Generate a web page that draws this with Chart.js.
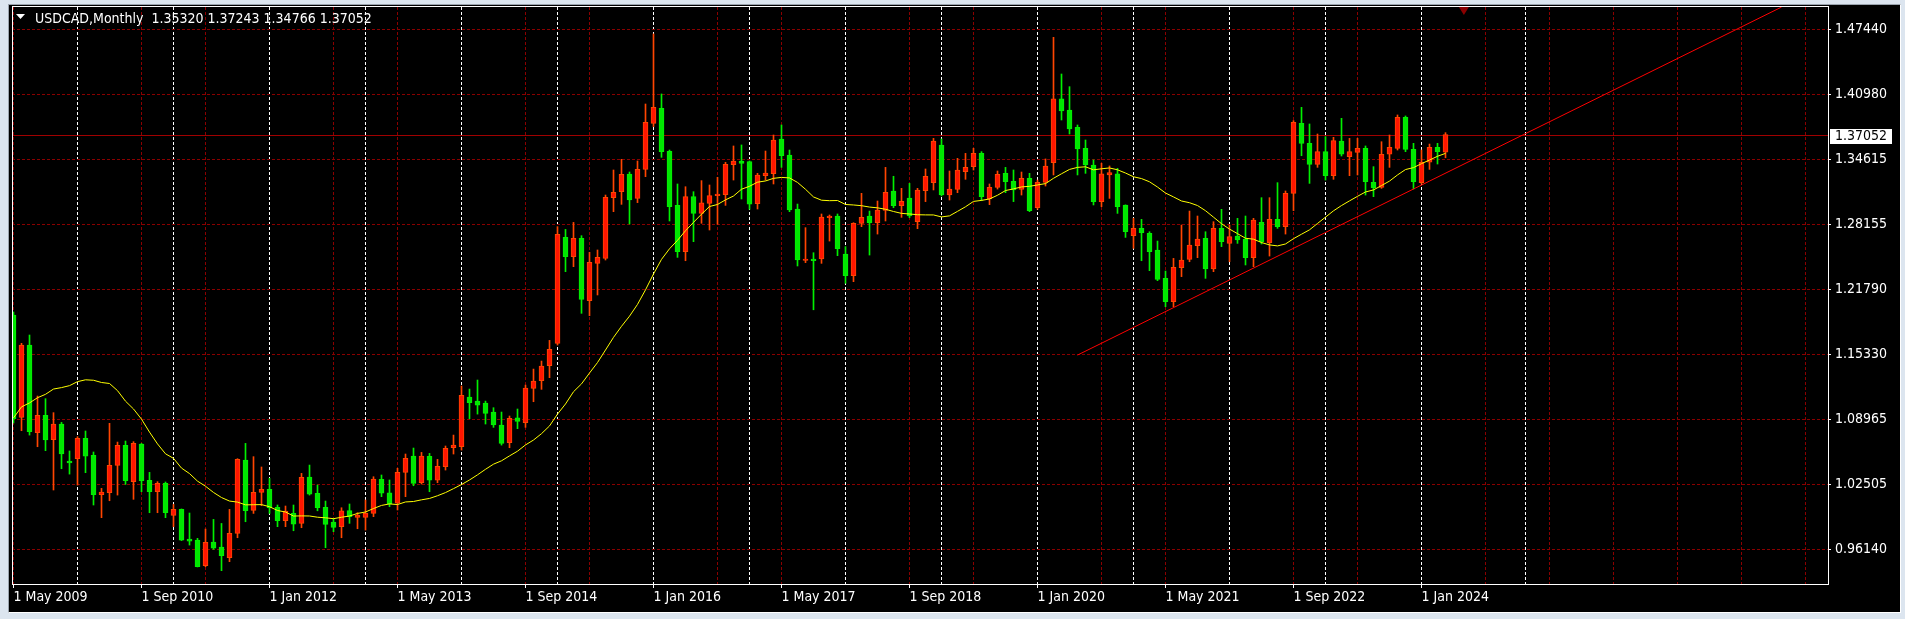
<!DOCTYPE html>
<html>
<head>
<meta charset="utf-8">
<title>USDCAD, Monthly</title>
<script src="https://cdn.jsdelivr.net/npm/chart.js@4.4.0/dist/chart.umd.min.js"></script>
<style>
  html, body { margin: 0; padding: 0; }
  body { width: 1905px; height: 619px; background: #dce5ef; position: relative; overflow: hidden; }
  #win { position: absolute; left: 8px; top: 4px; width: 1893px; height: 609px; box-sizing: border-box;
         background: #000; border-left: 1px solid #9aa3ad; border-top: 1px solid #9aa3ad;
         border-right: 1px solid #fff; border-bottom: 1px solid #fff; }
  #wrap { position: absolute; left: 0; top: 0; width: 1905px; height: 619px; }
</style>
</head>
<body>
<div id="win"></div>
<div id="wrap"><canvas id="chart" width="1905" height="619"></canvas></div>
<script>
const symbol = "USDCAD"
const timeframe = "Monthly"

// monthly bars, index 0 = May 2009 ... index 179 = Apr 2024
const open = [
  1.1925,1.0916,1.1629,1.0764,1.0935,1.0695,1.0850,1.0485,1.0508,1.0709,
  1.0541,1.0153,1.0172,1.0442,1.0640,1.0281,1.0652,1.0294,1.0182,1.0265,
  0.9949,1.0008,0.9715,0.9705,0.9452,0.9686,0.9636,0.9531,0.9771,1.0495,
  0.9998,1.0175,1.0205,1.0027,0.9896,0.9968,0.9870,1.0327,1.0166,1.0027,
  0.9883,0.9837,0.9996,0.9929,0.9929,0.9969,1.0305,1.0170,1.0068,1.0373,
  1.0534,1.0271,1.0531,1.0297,1.0429,1.0616,1.0626,1.1116,1.1076,1.1057,
  1.0968,1.0840,1.0665,1.0912,1.0863,1.1202,1.1277,1.1425,1.1646,1.2691,
  1.2501,1.2682,1.2067,1.2435,1.2484,1.3083,1.3142,1.3316,1.3076,1.3362,
  1.3816,1.3964,1.3540,1.3007,1.2550,1.3093,1.2928,1.3027,1.3103,1.3113,
  1.3409,1.3445,1.3440,1.3024,1.3300,1.3320,1.3662,1.3504,1.2971,1.2465,
  1.2478,1.2478,1.2886,1.2902,1.2527,1.2313,1.2830,1.2902,1.2836,1.2958,
  1.3149,1.3004,1.3080,1.2846,1.3152,1.3231,1.3603,1.3109,1.3165,1.3339,
  1.3389,1.3520,1.3070,1.3185,1.3323,1.3244,1.3165,1.3274,1.2984,1.3234,
  1.3428,1.4057,1.3948,1.3777,1.3570,1.3405,1.3043,1.3307,1.3317,1.3010,
  1.2708,1.2780,1.2731,1.2567,1.2287,1.2057,1.2392,1.2475,1.2609,1.2681,
  1.2379,1.2780,1.2632,1.2704,1.2672,1.2491,1.2840,1.2639,1.2869,1.2797,
  1.3126,1.3816,1.3619,1.3412,1.3537,1.3300,1.3642,1.3487,1.3530,1.3570,
  1.3234,1.3185,1.3511,1.3570,1.3876,1.3560,1.3231,1.3432,1.3580,1.35320
]
const high = [
  1.1955,1.1646,1.1728,1.1126,1.1100,1.0962,1.0866,1.0584,1.0725,1.0781,
  1.0574,1.0215,1.0857,1.0672,1.0682,1.0676,1.0659,1.0373,1.0281,1.0278,
  1.0057,1.0012,0.9972,0.9722,0.9814,0.9909,0.9869,1.0008,1.0508,1.0659,
  1.0528,1.0426,1.0314,1.0051,1.0041,1.0051,1.0363,1.0445,1.0248,1.0090,
  0.9919,1.0024,1.0061,0.9975,1.0100,1.0330,1.0347,1.0298,1.0413,1.0554,
  1.0613,1.0570,1.0560,1.0501,1.0633,1.0741,1.1225,1.1195,1.1284,1.1076,
  1.1011,1.0968,1.0929,1.0998,1.1234,1.1392,1.1471,1.1675,1.2797,1.2770,
  1.2839,1.2708,1.2544,1.2567,1.3109,1.3356,1.3461,1.3336,1.3445,1.4007,
  1.4698,1.4106,1.3553,1.3218,1.3191,1.3142,1.3251,1.3208,1.3284,1.3432,
  1.3593,1.3603,1.3445,1.3323,1.3543,1.3701,1.3800,1.3553,1.3020,1.2787,
  1.2540,1.2922,1.2912,1.2922,1.2600,1.2836,1.3126,1.2951,1.3050,1.3382,
  1.3294,1.3175,1.3224,1.3175,1.3366,1.3668,1.3662,1.3346,1.3471,1.3520,
  1.3570,1.3537,1.3218,1.3346,1.3382,1.3356,1.3336,1.3323,1.3257,1.3465,
  1.4665,1.4303,1.4178,1.3800,1.3652,1.3455,1.3422,1.3396,1.3372,1.3012,
  1.2879,1.2869,1.2747,1.2655,1.2359,1.2484,1.2813,1.2951,1.2902,1.2747,
  1.2846,1.2968,1.2813,1.2879,1.2902,1.2879,1.3083,1.3083,1.3231,1.3149,
  1.3843,1.3974,1.3810,1.3711,1.3685,1.3678,1.3866,1.3668,1.3668,1.3593,
  1.3389,1.3635,1.3701,1.3899,1.3889,1.3619,1.3553,1.3612,1.3619,1.37243
]
const low = [
  1.0860,1.0784,1.0741,1.0626,1.0587,1.0199,1.0409,1.0356,1.0248,1.0370,
  1.0051,0.9926,1.0093,1.0149,1.0254,1.0107,1.0182,0.9975,0.9975,0.9926,
  0.9837,0.9700,0.9656,0.9440,0.9442,0.9613,0.9403,0.9492,0.9728,0.9886,
  0.9968,1.0044,0.9968,0.9837,0.9837,0.9797,0.9827,1.0149,0.9994,0.9630,
  0.9788,0.9728,0.9870,0.9817,0.9804,0.9936,1.0133,1.0034,1.0002,1.0133,
  1.0241,1.0258,1.0182,1.0271,1.0396,1.0554,1.0593,1.0902,1.0948,1.0850,
  1.0817,1.0642,1.0616,1.0804,1.0817,1.1070,1.1192,1.1307,1.1629,1.2353,
  1.2402,1.1942,1.1919,1.2123,1.2468,1.2945,1.3017,1.2823,1.3034,1.3290,
  1.3784,1.3481,1.2853,1.2494,1.2461,1.2649,1.2830,1.2764,1.2820,1.3007,
  1.3257,1.3070,1.2968,1.2971,1.3257,1.3218,1.3382,1.2945,1.2409,1.2442,
  1.1977,1.2435,1.2655,1.2511,1.2238,1.2254,1.2797,1.2517,1.2724,1.2853,
  1.2984,1.2889,1.2886,1.2777,1.3044,1.3159,1.3100,1.3060,1.3132,1.3264,
  1.3356,1.3053,1.3014,1.3168,1.3132,1.3044,1.3109,1.2945,1.2968,1.3198,
  1.3307,1.3849,1.3711,1.3307,1.3323,1.3011,1.2994,1.3076,1.2928,1.2691,
  1.2583,1.2461,1.2363,1.2264,1.2007,1.2007,1.2304,1.2451,1.2491,1.2287,
  1.2353,1.2600,1.2451,1.2632,1.2419,1.2402,1.2626,1.2507,1.2780,1.2724,
  1.2955,1.3497,1.3224,1.3382,1.3257,1.3264,1.3494,1.3300,1.3307,1.3109,
  1.3093,1.3175,1.3382,1.3553,1.3537,1.3168,1.3218,1.3362,1.3415,1.34766
]
const close = [
  1.0900,1.1629,1.0774,1.0935,1.0692,1.0850,1.0554,1.0465,1.0709,1.0534,
  1.0153,1.0179,1.0442,1.0640,1.0291,1.0659,1.0291,1.0182,1.0265,0.9975,
  1.0008,0.9705,0.9695,0.9442,0.9682,0.9626,0.9551,0.9771,1.0501,0.9994,
  1.0175,1.0205,1.0024,0.9896,0.9991,0.9863,1.0324,1.0159,1.0024,0.9860,
  0.9830,0.9994,0.9935,0.9952,0.9968,1.0308,1.0167,1.0065,1.0374,1.0511,
  1.0264,1.0534,1.0297,1.0432,1.0610,1.0642,1.1132,1.1060,1.1037,1.0955,
  1.0840,1.0659,1.0906,1.0876,1.1205,1.1274,1.1422,1.1586,1.2721,1.2501,
  1.2682,1.2080,1.2445,1.2494,1.3086,1.3135,1.3313,1.3060,1.3362,1.3826,
  1.3974,1.3537,1.2994,1.2550,1.3093,1.2928,1.3033,1.3103,1.3119,1.3412,
  1.3445,1.3420,1.3020,1.3307,1.3326,1.3652,1.3497,1.2961,1.2468,1.2478,
  1.2461,1.2892,1.2902,1.2580,1.2313,1.2830,1.2889,1.2836,1.2961,1.3136,
  1.3004,1.3047,1.2902,1.3159,1.3293,1.3642,1.3109,1.3168,1.3356,1.3382,
  1.3520,1.3093,1.3185,1.3313,1.3241,1.3159,1.3274,1.2955,1.3234,1.3395,
  1.4057,1.3938,1.3760,1.3563,1.3405,1.3043,1.3317,1.3330,1.2994,1.2747,
  1.2780,1.2738,1.2550,1.2277,1.2057,1.2396,1.2468,1.2616,1.2675,1.2379,
  1.2780,1.2649,1.2698,1.2665,1.2491,1.2863,1.2649,1.2869,1.2797,1.3126,
  1.3826,1.3619,1.3412,1.3537,1.3300,1.3645,1.3511,1.3537,1.3570,1.3241,
  1.3182,1.3511,1.3580,1.3876,1.3560,1.3241,1.3432,1.3580,1.3537,1.37052
]
// closes Oct 2007 .. Apr 2009, only needed to start the moving average
const priorClose = [0.9450,0.9990,0.9910,1.0020,0.9810,1.0270,1.0080,0.9920,1.0170,1.0240,
                    1.0620,1.0640,1.2050,1.2370,1.2200,1.2300,1.2730,1.2600,1.1930]
const maPeriod = 20

const yTicks = [1.47440, 1.40980, 1.34615, 1.28155, 1.21790, 1.15330, 1.08965, 1.02505, 0.96140]
const xLabelIdx = [0, 16, 32, 48, 64, 80, 96, 112, 128, 144, 160, 176]
const xLabels = ["1 May 2009", "1 Sep 2010", "1 Jan 2012", "1 May 2013", "1 Sep 2014", "1 Jan 2016",
                 "1 May 2017", "1 Sep 2018", "1 Jan 2020", "1 May 2021", "1 Sep 2022", "1 Jan 2024"]
const gridIdx = [0, 8, 16, 24, 32, 40, 48, 56, 64, 72, 80, 88, 96, 104, 112, 120, 128, 136, 144,
                 152, 160, 168, 176, 184, 192, 200, 208, 216, 224]
const yearSepIdx = [8, 20, 32, 44, 56, 68, 80, 92, 104, 116, 128, 140, 152, 164, 176, 189]

// support trend line drawn on the chart (bar index, price)
const trendIdx = [133, 221]
const trendPrice = [1.1530, 1.4963]
const shiftIdx = 181.3

const xMin = -0.1875, xMax = 226.8125
const yMin = 0.92717, yMax = 1.4964

const font = { family: "'DejaVu Sans Condensed', 'DejaVu Sans', sans-serif", size: 14 }
const upFill = "#ff1500", upLine = "#ff4500"
const dnFill = "#00e600", dnLine = "#00f000"
const gridColor = "#8b0000"
const bidColor = "#a00000"

const isUp = close.map((c, i) => c >= open[i])
const bodies = open.map((o, i) => ({ x: i, y: [Math.min(o, close[i]), Math.max(o, close[i])] }))
const wicks = high.map((h, i) => ({ x: i, y: [low[i], h] }))

const allClose = priorClose.concat(close)
const maData = close.map((_, i) => {
    let s = 0
    for (let k = 0; k < maPeriod; k++) s += allClose[i + k]
    return { x: i, y: s / maPeriod }
})

const last = close.length - 1
const fmt = v => v.toFixed(5)

// keep the plot area exactly where the layout padding puts it
const noScalePadding = s => {
    s.paddingTop = 0
    s.paddingBottom = 0
    s.paddingLeft = 0
    s.paddingRight = 0
}

/**
 * Terminal-style extras: bid line, frame, chart shift marker, title and price tag
 */
const mt4Decor = {
    id: "mt4Decor",
    beforeDatasetsDraw(chart) {
        const { ctx, chartArea: a, scales } = chart
        const py = Math.round(scales.y.getPixelForValue(close[last])) + 0.5
        ctx.save()
        ctx.strokeStyle = bidColor
        ctx.lineWidth = 1
        ctx.beginPath()
        ctx.moveTo(a.left, py)
        ctx.lineTo(a.right, py)
        ctx.stroke()
        ctx.restore()
    },
    afterDatasetsDraw(chart) {
        const { ctx, chartArea: a, scales } = chart
        ctx.save()
        const sx = scales.x.getPixelForValue(shiftIdx)
        ctx.fillStyle = gridColor
        ctx.beginPath()
        ctx.moveTo(sx - 5, a.top)
        ctx.lineTo(sx + 5, a.top)
        ctx.lineTo(sx, a.top + 8)
        ctx.closePath()
        ctx.fill()

        ctx.strokeStyle = "#ffffff"
        ctx.lineWidth = 1
        ctx.strokeRect(Math.round(a.left) + 0.5, Math.round(a.top) - 0.5,
                       Math.round(a.right - a.left), Math.round(a.bottom - a.top) + 1)
        ctx.restore()
    },
    afterDraw(chart) {
        const { ctx, chartArea: a, scales } = chart
        ctx.save()
        ctx.font = font.size + "px " + font.family
        ctx.fillStyle = "#ffffff"
        ctx.beginPath()
        ctx.moveTo(a.left + 4, a.top + 7)
        ctx.lineTo(a.left + 13, a.top + 7)
        ctx.lineTo(a.left + 8.5, a.top + 12)
        ctx.closePath()
        ctx.fill()
        ctx.textBaseline = "alphabetic"
        const title = symbol + "," + timeframe + "  " +
            [open[last], high[last], low[last], close[last]].map(fmt).join(" ")
        ctx.fillText(title, a.left + 23, a.top + 16)

        const py = Math.round(scales.y.getPixelForValue(close[last]))
        ctx.fillStyle = "#ffffff"
        ctx.fillRect(a.right + 2, py - 6, 62, 15)
        ctx.fillStyle = "#000000"
        ctx.textBaseline = "middle"
        ctx.fillText(fmt(close[last]), a.right + 7, py + 1.5)
        ctx.restore()
    }
}

new Chart(document.getElementById("chart"), {
    type: "bar",
    data: {
        datasets: [
            {
                type: "line", label: "MA(20)", data: maData, order: 0,
                borderColor: "#ffff00", borderWidth: 1, pointRadius: 0, tension: 0
            },
            {
                type: "line", label: "trend", order: 0,
                data: trendIdx.map((x, i) => ({ x: x, y: trendPrice[i] })),
                borderColor: "#ff0000", borderWidth: 1, pointRadius: 0
            },
            {
                label: "body", data: bodies, order: 1, grouped: false,
                barThickness: 5, minBarLength: 1, borderWidth: 1, borderSkipped: false,
                backgroundColor: isUp.map(u => u ? upFill : dnFill),
                borderColor: isUp.map(u => u ? upLine : dnLine)
            },
            {
                label: "wick", data: wicks, order: 2, grouped: false,
                barThickness: 1, borderWidth: 0,
                backgroundColor: isUp.map(u => u ? upLine : dnLine)
            }
        ]
    },
    options: {
        responsive: false,
        animation: false,
        devicePixelRatio: 1,
        events: [],
        layout: { padding: { left: 12, top: 7, right: 0, bottom: 0 } },
        plugins: { legend: { display: false }, tooltip: { enabled: false } },
        scales: {
            x: {
                type: "linear", position: "bottom", min: xMin, max: xMax, offset: false,
                afterBuildTicks: s => { s.ticks = gridIdx.map(v => ({ value: v })) },
                afterFit: s => { s.height = 35; noScalePadding(s) },
                ticks: {
                    autoSkip: false, maxRotation: 0, minRotation: 0, align: "start",
                    color: "#ffffff", font: font, padding: 1,
                    callback: v => {
                        const k = xLabelIdx.indexOf(v)
                        return k < 0 ? "" : xLabels[k]
                    }
                },
                grid: {
                    offset: false, color: gridColor, lineWidth: 1, drawTicks: true, tickLength: 4,
                    tickColor: c => (c.tick && xLabelIdx.includes(c.tick.value)) ? "#ffffff" : "rgba(0,0,0,0)"
                },
                border: { display: false, dash: [3, 2] }
            },
            sep: {
                type: "linear", axis: "x", position: "bottom", min: xMin, max: xMax, offset: false,
                afterBuildTicks: s => { s.ticks = yearSepIdx.map(v => ({ value: v })) },
                afterFit: s => { s.height = 0; noScalePadding(s) },
                ticks: { display: false },
                grid: { offset: false, color: "#ffffff", lineWidth: 1, drawTicks: false },
                border: { display: false, dash: [3, 2] }
            },
            y: {
                type: "linear", position: "right", min: yMin, max: yMax,
                afterBuildTicks: s => { s.ticks = yTicks.map(v => ({ value: v })) },
                afterFit: s => { s.width = 77; noScalePadding(s) },
                ticks: { autoSkip: false, color: "#ffffff", font: font, padding: 4, callback: v => fmt(v) },
                grid: { color: gridColor, lineWidth: 1, tickLength: 3, tickColor: "#ffffff" },
                border: { display: false, dash: [3, 2] }
            }
        }
    },
    plugins: [mt4Decor]
})
</script>
</body>
</html>
